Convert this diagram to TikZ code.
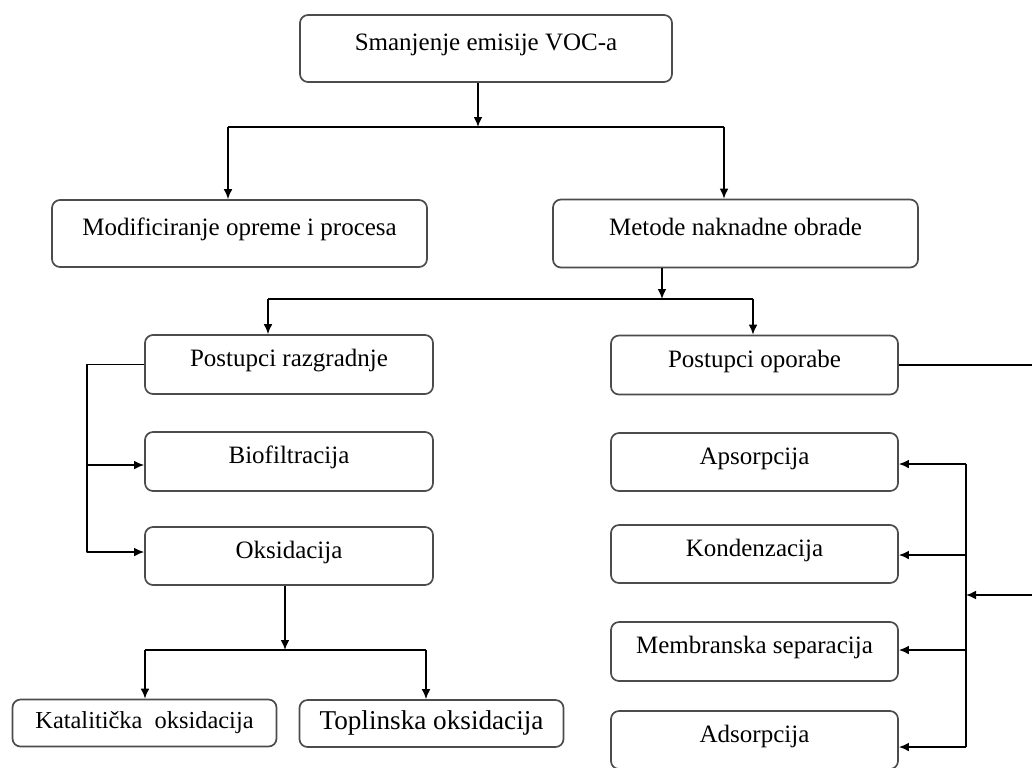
\documentclass[tikz,border=0pt]{standalone}
\usepackage{fontspec}
\setmainfont{Liberation Serif}
\usetikzlibrary{arrows.meta}
\begin{document}
\begin{tikzpicture}[x=0.5pt, y=-0.5pt, font=\fontsize{12.5}{15}\selectfont, line join=round, >={Latex[length=5pt,width=4.4pt]},
 box/.style={draw=black!70, line width=0.85pt, rounded corners=4pt, fill=white, inner sep=0pt, text height=9pt, text depth=7pt},
 leaf/.style={box, text height=8.5pt, text depth=3pt, minimum height=23.5pt},
 link/.style={line width=0.8pt, black}]
 \useasboundingbox (0,0) rectangle (1032,767);
 \def\xl{87} \def\xr{966}
 \node[box, minimum width=186pt, minimum height=33.5pt] (voc) at (486,48.5) {Smanjenje emisije VOC-a};
 \node[box, minimum width=187.5pt, minimum height=33.5pt] (mod) at (239.5,233.5) {Modificiranje opreme i procesa};
 \node[box, minimum width=182.5pt, minimum height=34pt] (met) at (735.5,233.5) {Metode naknadne obrade};
 \node[box, minimum width=144pt, minimum height=29.5pt] (razg) at (289,364.5) {Postupci razgradnje};
 \node[box, minimum width=144pt, minimum height=29.5pt] (bio) at (289,461.5) {Biofiltracija};
 \node[box, minimum width=144pt, minimum height=29pt] (oks) at (289,556) {Oksidacija};
 \node[leaf, minimum width=132pt] (kat) at (144.5,723) {\fontsize{12.2}{14}\selectfont Katalitička\ \ oksidacija};
 \node[leaf, minimum width=132pt] (topl) at (431.5,723.5) {\fontsize{13.6}{16}\selectfont Toplinska oksidacija};
 \node[box, minimum width=143.5pt, minimum height=29.5pt] (opor) at (754.5,365) {Postupci oporabe};
 \node[box, minimum width=143.5pt, minimum height=29pt] (aps) at (754.5,462) {Apsorpcija};
 \node[box, minimum width=143.5pt, minimum height=29pt] (kond) at (754.5,554) {Kondenzacija};
 \node[box, minimum width=143.5pt, minimum height=29.5pt] (memb) at (754.5,651.5) {Membranska separacija};
 \node[box, minimum width=143.5pt, minimum height=29pt] (ads) at (754.5,740) {Adsorpcija};
 \coordinate (j1) at (478,127); \coordinate (b1l) at (228,127); \coordinate (b1r) at (724,127);
 \coordinate (j2) at (662,299); \coordinate (b2l) at (268,299); \coordinate (b2r) at (753,299);
 \coordinate (j3) at (285,650); \coordinate (b3l) at (145,650); \coordinate (b3r) at (426,650);
 \coordinate (jr) at (\xr,595); \coordinate (out) at (1045,595);
 \draw[link,->] (j1 |- voc.south) -- (j1);
 \draw[link] (b1l) -- (b1r);
 \draw[link,->] (b1l) -- (b1l |- mod.north);
 \draw[link,->] (b1r) -- (b1r |- met.north);
 \draw[link,->] (j2 |- met.south) -- (j2);
 \draw[link] (b2l) -- (b2r);
 \draw[link,->] (b2l) -- (b2l |- razg.north);
 \draw[link,->] (b2r) -- (b2r |- opor.north);
 \draw[link,->] (razg.west) -- (\xl,364.5) |- ([yshift=2pt]oks.west);
 \draw[link,->] (\xl,465) -- (\xl,465 -| bio.west);
 \draw[link,->] (j3 |- oks.south) -- (j3);
 \draw[link] (b3l) -- (b3r);
 \draw[link,->] (b3l) -- (b3l |- kat.north);
 \draw[link,->] (b3r) -- (b3r |- topl.north);
 \draw[link,->] (opor.east) -| (out) -- (jr);
 \draw[link] (\xr,464) -- (\xr,747);
 \foreach \n/\dy in {aps/-1pt,kond/-0.5pt,memb/0.75pt,ads/-3.5pt}
 \draw[link,->] ([yshift=\dy]\n.east -| jr) -- ([yshift=\dy]\n.east);
\end{tikzpicture}
\end{document}
